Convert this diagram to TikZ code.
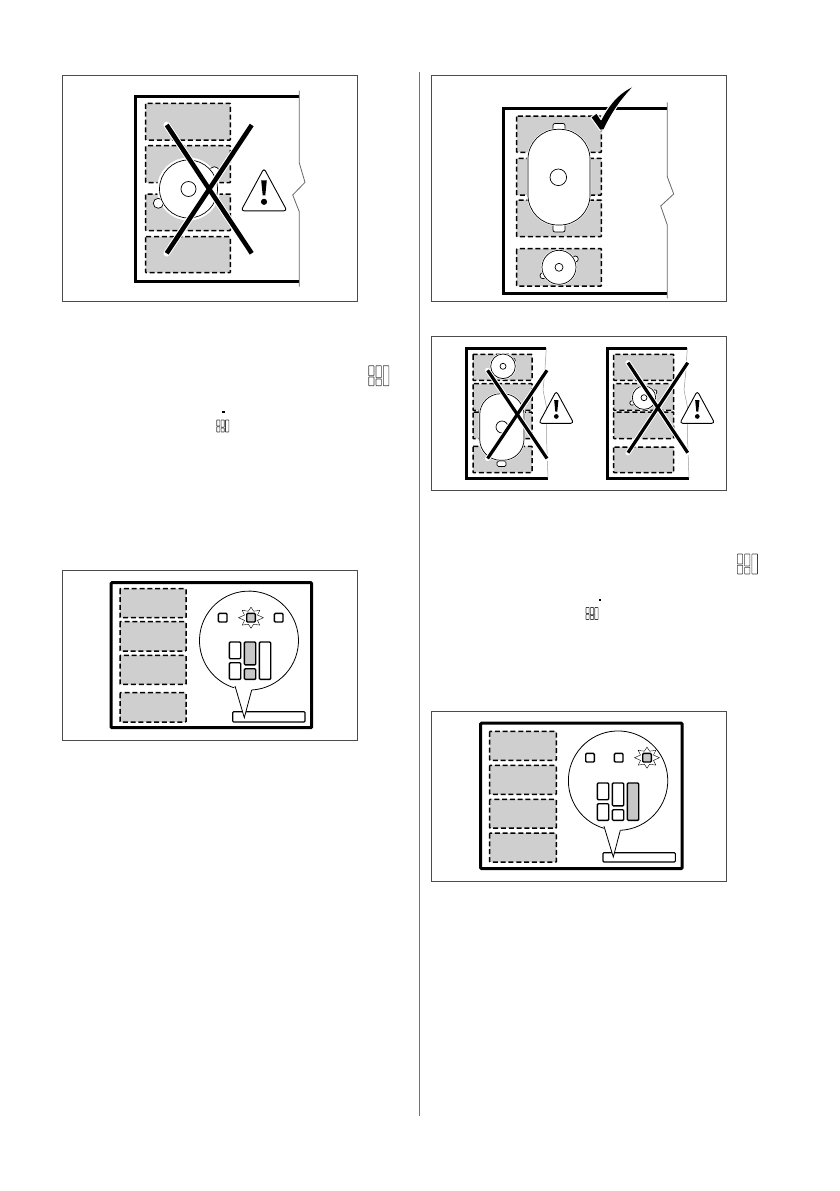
\documentclass[tikz,border=0pt]{standalone}
\tikzset{
  panel/.style={draw=black!70, line width=0.8pt},
  hobline/.style={line width=3pt},
  cutline/.style={draw=black!60, line width=0.8pt},
  zonebox/.style={draw, fill=black!19, line width=1.5pt, dash pattern=on 5pt off 2.8pt, rounded corners=0.6pt},
  potline/.style={draw, fill=white, line width=0.7pt},
  potgap/.style={draw=white, fill=white, line width=2pt},
  keybox/.style={draw, line width=1.4pt, rounded corners=1pt, fill=white},
  keyon/.style={keybox, fill=black!22},
  iconline/.style={draw=black!75, line width=0.6pt, rounded corners=0.4pt}
}
% une zone de cuisson : x1 y1 x2 y2
\newcommand{\zone}[4]{\draw[zonebox] (#1,#2) rectangle (#3,#4);}
% croix : x1 x2 (gauche, droite) y1 y2 largeur
\newcommand{\crossout}[5]{
  \draw[white, line width=#5pt+2pt, line cap=round] (#1,#3) -- (#2,#4);
  \draw[white, line width=#5pt+2pt, line cap=round] (#2,#3) -- (#1,#4);
  \draw[line width=#5pt] (#1,#3) -- (#2,#4);
  \draw[line width=#5pt] (#2,#3) -- (#1,#4);
}
% triangle : sommet x y, echelle
\newcommand{\warnsign}[3]{
  \begin{scope}[shift={(#1,#2)}, scale=#3]
    \draw[fill=white, line width=0.9pt, rounded corners=3pt] (0,0) -- (23,42.5) -- (-23,42.5) -- cycle;
    \fill (-2.8,12) -- (2.8,12) -- (1.3,27) -- (-1.3,27) -- cycle;
    \fill (0,33.5) circle (3.1);
  \end{scope}
}
% casserole ronde : x y rayon rayon interieur
\newcommand{\roundpot}[4]{
  \draw[potgap] (#1,#2) circle (#3);
  \draw[potline] (#1,#2) circle (#3);
  \draw[potline] (#1,#2) circle (#4);
}
% clavier : x y (coin haut gauche), style de chaque case
\newcommand{\keypad}[7]{
  \draw[#3] (#1,#2) rectangle ++(11.4,16.7);
  \draw[#4] (#1,#2+20.7) rectangle ++(11.4,16.6);
  \draw[#5] (#1+15,#2) rectangle ++(11.4,22.8);
  \draw[#6] (#1+15,#2+26.7) rectangle ++(11.4,10.6);
  \draw[#7] (#1+30,#2) rectangle ++(11.4,37.3);
}
% etoile du voyant
\newcommand{\blink}[2]{
  \draw[line width=0.4pt] plot[samples at={0,1,...,16}] ({#1+(mod(\x,2)==0 ? 12.5 : 7)*cos(\x*22.5)},{#2+(mod(\x,2)==0 ? 10.5 : 7)*sin(\x*22.5)});
}
% bulle : x y rayon, base gauche, base droite, pointe
\newcommand{\bubble}[9]{
  \draw[fill=white, line width=0.8pt] (#4,#5) -- (#8,#9) -- (#6,#7);
  \draw[white, line width=2pt] (#4+0.6,#5-1.5) -- (#6-0.6,#7-1.5);
  \draw[line width=0.8pt] (#6,#7) let \n1={atan2(#7-#2,#6-#1)}, \n2={atan2(#5-#2,#4-#1)} in arc[start angle=\n1, end angle=\n2-360, radius=#3];
}
% petit clavier dans le texte : x y echelle
\newcommand{\keyicon}[3]{
  \begin{scope}[shift={(#1,#2)}, scale=#3]
    \draw[iconline] (0,0) rectangle (5.3,10);
    \draw[iconline] (0,11.3) rectangle (5.3,20);
    \draw[iconline] (7.3,0) rectangle (12.6,12);
    \draw[iconline] (7.3,13.3) rectangle (12.6,20);
    \draw[iconline] (14.6,0) rectangle (20.2,20);
  \end{scope}
}
\usetikzlibrary{calc}
\begin{document}
\begin{tikzpicture}[x=1pt, y=-1pt]
\useasboundingbox (0,0) rectangle (839,1191);
\fill[white] (0,0) rectangle (839,1191);

% filet central
\draw[black!55, line width=0.8pt] (419.5,72) -- (419.5,1116);

% Haut gauche
\draw[panel] (62.7,75.3) rectangle (357.3,301);
\draw[hobline] (299.3,96) -- (135,96) -- (135,281) -- (299.3,281);
\draw[cutline] (299.3,90.7) -- (299.3,163) -- (305,182.3) -- (292.7,195) -- (299.3,211.7) -- (299.3,286.7);
\zone{145.7}{103.3}{230.3}{140}
\zone{145.7}{145.7}{230.3}{182.7}
\zone{145.7}{194}{230.3}{230.7}
\zone{145.7}{236.7}{230.3}{272.7}
\draw[potgap, line width=5pt] (188.5,189) circle (29);
\draw[potline] (158.3,203.3) circle (5);
\draw[potline] (214.3,171.7) circle (5);
\roundpot{188.5}{189}{29}{7.5}
\crossout{166.7}{251.7}{125}{253.3}{4.6}
\warnsign{264}{168.3}{1}

% Haut droite
\draw[panel] (431.7,75.3) rectangle (726.3,301);
\draw[hobline] (667.3,108.3) -- (503,108.3) -- (503,293.3) -- (667.3,293.3);
\draw[cutline] (667.3,102.3) -- (667.3,176.7) -- (673.7,194) -- (660.7,206) -- (667.3,225) -- (667.3,298.3);
\zone{516.7}{116}{601.3}{152.3}
\zone{516.7}{158.3}{601.3}{195}
\zone{516.7}{200}{601.3}{236.7}
\zone{516.7}{248.7}{601.3}{286}
\draw[potline, rounded corners=2pt] (553,123.5) rectangle (565,131);
\draw[potline, rounded corners=2pt] (553,224) rectangle (565,232);
\draw[draw=white, fill=white, line width=2pt, rounded corners=30pt] (528,129.3) rectangle (590,225);
\draw[potline, rounded corners=30pt] (528,129.3) rectangle (590,225);
\draw[potline] (558.3,177.3) circle (8.3);
\draw[potline] (575.3,259) circle (3);
\draw[potline] (543,275.7) circle (3);
\roundpot{559}{267.3}{17}{4}
\draw[fill=black, draw=white, line width=1pt, line join=round] (590.7,117.3) -- (596.7,113) -- (601,119.7) .. controls (610,102) and (621,91) .. (635,85.3) .. controls (624,96) and (612,112) .. (604,129.7) -- (600,130.3) -- cycle;

% Milieu droite
\draw[panel] (431.3,336.3) rectangle (726.3,490.3);
% plaque de gauche
\draw[hobline] (546.3,348) -- (466.3,348) -- (466.3,478) -- (548,478);
\draw[black!40, line width=0.5pt] (546.3,348) -- (544.8,372) -- (543,390) -- (547.5,412) -- (546.3,432) -- (548,478);
\zone{473}{354.3}{532}{380.3}
\zone{473}{383.7}{532}{410.3}
\zone{473}{412}{532}{438.7}
\zone{473}{446.3}{532}{472.7}
\draw[potline, rounded corners=1.5pt] (497,461) rectangle (506,466.5);
\draw[draw=white, fill=white, line width=2pt, rounded corners=21pt] (479.7,393.7) rectangle (524,460.3);
\draw[potline, rounded corners=21pt] (479.7,393.7) rectangle (524,460.3);
\draw[potline] (502,427) circle (6);
\draw[potline] (513.3,360.3) circle (2);
\roundpot{503}{366.3}{12.3}{3}
\crossout{487.6}{547}{370.3}{458.5}{3.2}
\warnsign{556.3}{391}{0.76}
% plaque de droite
\draw[hobline] (687.3,348) -- (607.3,348) -- (607.3,478) -- (689,478);
\draw[black!40, line width=0.5pt] (687.3,348) -- (685.8,372) -- (684,390) -- (688.5,412) -- (687.3,432) -- (689,478);
\zone{613.7}{354.3}{673.7}{380.3}
\zone{613.7}{383.7}{673.7}{410.3}
\zone{613.7}{412}{673.7}{438.7}
\zone{613.7}{447}{673.7}{472.7}
\draw[potline] (654.7,392) circle (2.2);
\draw[potline] (632,403) circle (2.2);
\roundpot{644}{397.7}{11.7}{3}
\crossout{628}{687.7}{362.7}{452.7}{3.2}
\warnsign{697.3}{391}{0.76}

% petits claviers dans le texte
\keyicon{368.7}{365.7}{1}
\keyicon{216.7}{420}{0.6}
\fill (221.8,411) rectangle (224.8,412.6);
\keyicon{737.3}{554}{1}
\keyicon{586}{607.5}{0.6}
\fill (598.6,599) rectangle (601.2,600.6);

% Bas gauche
\draw[panel] (62.7,570.3) rectangle (357.3,740);
\draw[hobline, rounded corners=1pt] (111,582.7) rectangle (311.7,727.7);
\zone{120}{588.7}{186}{617.7}
\zone{120}{621.7}{186}{651}
\zone{120}{655.3}{186}{684.3}
\zone{120}{692.7}{186}{722}
\draw[keybox, line width=1.1pt] (232.7,711.7) rectangle (305,722);
\bubble{249}{641}{49.5}{235}{686}{251.7}{690}{244.3}{717.7}
\draw[keybox] (218.4,613.4) rectangle ++(8.6,8.6);
\blink{251}{617.7}
\draw[keyon] (246.7,613.4) rectangle ++(8.6,8.6);
\draw[keybox] (274.4,613.4) rectangle ++(8.6,8.6);
\keypad{229.3}{642}{keybox}{keybox}{keyon}{keyon}{keybox}

% Bas droite
\draw[panel] (431.7,711.3) rectangle (726.3,881);
\draw[hobline, rounded corners=1pt] (480.7,723) rectangle (682,868.7);
\zone{489.7}{731.3}{556.3}{760.3}
\zone{489.7}{765.3}{556.3}{794.3}
\zone{489.7}{799.3}{556.3}{828}
\zone{489.7}{833}{556.3}{862}
\draw[keybox, line width=1.1pt] (603,852.7) rectangle (675.3,862);
\bubble{618}{779.3}{49.7}{604}{826.3}{620.3}{830.3}{613.3}{857}
\draw[keybox] (585.7,753.4) rectangle ++(8.6,8.6);
\draw[keybox] (614.4,753.4) rectangle ++(8.6,8.6);
\blink{647}{757.7}
\draw[keyon] (642.7,753.4) rectangle ++(8.6,8.6);
\keypad{597.3}{783}{keybox}{keybox}{keybox}{keybox}{keyon}
\end{tikzpicture}
\end{document}
